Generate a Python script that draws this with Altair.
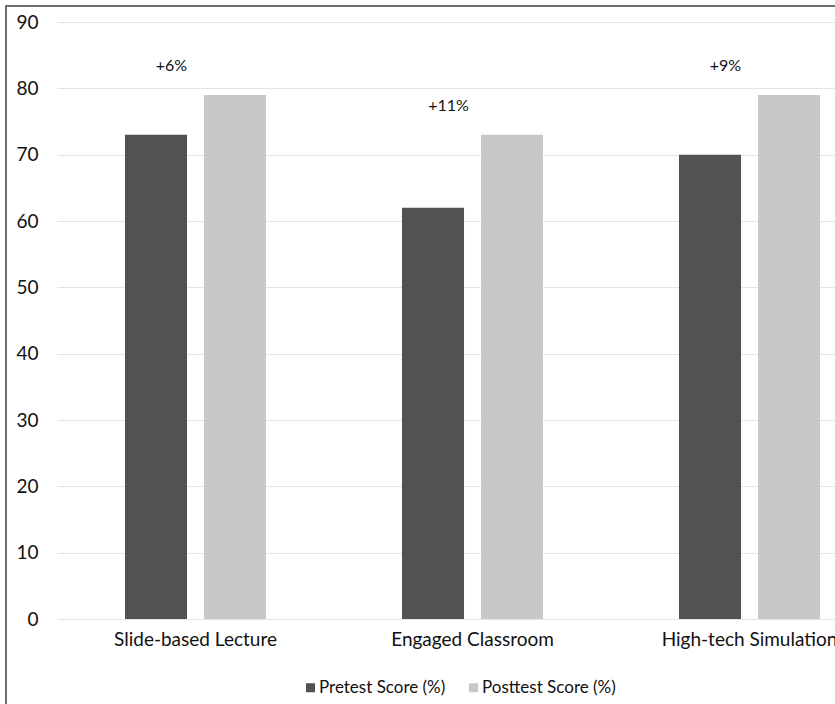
import altair as alt
import pandas as pd

# Scores by teaching method
methods = ["Slide-based Lecture", "Engaged Classroom", "High-tech Simulation"]
pretest = [73, 62, 70]
posttest = [79, 73, 79]
series = ["Pretest Score (%)", "Posttest Score (%)"]
colors = ["#525252", "#c8c8c8"]

FONT = "Lato"

bars_df = pd.DataFrame(
    {
        "method": methods * 2,
        "series": [series[0]] * 3 + [series[1]] * 3,
        "score": pretest + posttest,
    }
)
gain_df = pd.DataFrame(
    {
        "method": methods,
        "post": posttest,
        "gain": [f"+{b - a}%" for a, b in zip(pretest, posttest)],
    }
)
frame_df = pd.DataFrame({"k": [0]})

x_enc = alt.X(
    "method:N",
    sort=methods,
    scale=alt.Scale(range=[0, 831], paddingInner=0.491, paddingOuter=0.2455),
    axis=alt.Axis(
        title=None,
        labelAngle=0,
        labelFont=FONT,
        labelFontSize=19,
        labelColor="#111111",
        labelPadding=11,
        ticks=False,
        domain=False,
        grid=False,
        labelLimit=400,
    ),
)

y_scale = alt.Scale(domain=[0, 90], nice=False)

bars = (
    alt.Chart(bars_df)
    .mark_bar()
    .encode(
        x=x_enc,
        xOffset=alt.XOffset(
            "series:N",
            sort=series,
            scale=alt.Scale(paddingInner=0.215, paddingOuter=0),
        ),
        y=alt.Y(
            "score:Q",
            scale=y_scale,
            axis=alt.Axis(
                title=None,
                values=list(range(0, 91, 10)),
                labelFont=FONT,
                labelFontSize=19,
                labelColor="#111111",
                labelPadding=19,
                ticks=False,
                domain=False,
                gridColor="#e4e4e4",
                gridWidth=1.2,
            ),
        ),
        color=alt.Color(
            "series:N",
            sort=series,
            scale=alt.Scale(domain=series, range=colors),
            legend=alt.Legend(
                title=None,
                orient="none",
                direction="horizontal",
                legendX=245,
                legendY=657,
                padding=0,
                symbolType="square",
                symbolSize=81,
                symbolStrokeWidth=0,
                labelFont=FONT,
                labelFontSize=17,
                labelColor="#111111",
                labelOffset=0,
                columnPadding=19,
                labelLimit=300,
            ),
        ),
    )
)

gains = (
    alt.Chart(gain_df)
    .mark_text(font=FONT, fontSize=16, color="#111111", dx=-24, dy=-29)
    .encode(x=alt.X("method:N", sort=methods), y=alt.Y("post:Q", scale=y_scale), text="gain:N")
)

# outer frame: left and top edges sit inside the page, right and bottom run past it
frame = (
    alt.Chart(frame_df)
    .mark_rect(filled=False, stroke="#404040", strokeWidth=1.5)
    .encode(
        x=alt.value(-51),
        x2=alt.value(1000),
        y=alt.value(-16),
        y2=alt.value(1000),
    )
)

chart = (
    alt.layer(bars, gains, frame)
    .properties(
        width=778,
        height=597,
        autosize=alt.AutoSizeParams(type="none"),
        padding={"left": 57, "top": 22, "right": 0, "bottom": 85},
        background="white",
    )
    .configure_view(stroke=None)
)

chart.save("out.html", embed_options={"renderer": "svg", "actions": False})
